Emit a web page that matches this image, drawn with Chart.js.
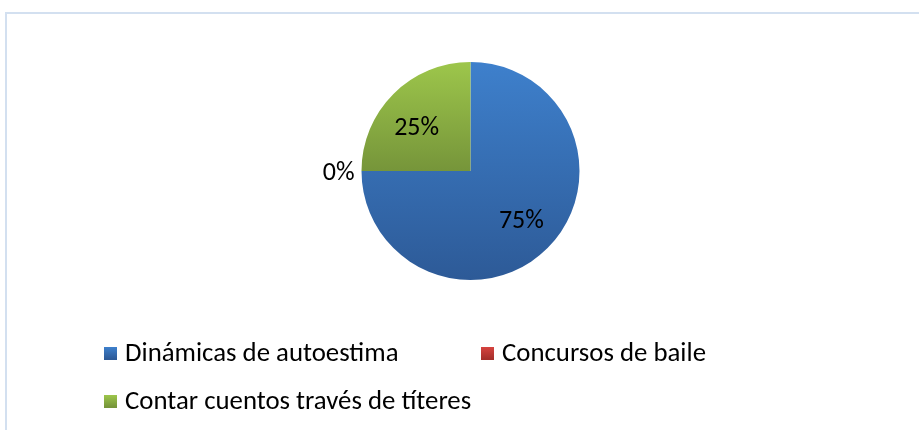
<!DOCTYPE html>
<html lang="es">
<head>
<meta charset="UTF-8">
<title>Actividades</title>
<script src="https://cdn.jsdelivr.net/npm/chart.js"></script>
<style>
  html, body { margin: 0; padding: 0; background: #fff; }
  #wrap { position: relative; width: 919px; height: 430px; overflow: hidden; }
  #frame { position: absolute; left: 5px; top: 12px; width: 930px; height: 440px;
           border-top: 2px solid #d3e0f0; border-left: 2px solid #d3e0f0; }
  canvas { position: absolute; left: 0; top: 0; }
</style>
</head>
<body>
<div id="wrap">
  <div id="frame"></div>
  <canvas id="pie" width="919" height="430"></canvas>
</div>
<script>
// data
var categories = ['Dinámicas de autoestima', 'Concursos de baile', 'Contar cuentos través de títeres'];
var values = [75, 0, 25];
var topColors = ['#3e80cc', '#d6433f', '#9dc64b'];
var bottomColors = ['#2d5a97', '#a52f2b', '#76953a'];
var legendSpots = [[104, 353], [481, 353], [104, 401]];

var FONT = 'Carlito, Lato, "Open Sans", sans-serif';

function sliceFill(context) {
    var chart = context.chart;
    var area = chart.chartArea;
    if (!area) return topColors[context.dataIndex];
    var arc = chart.getDatasetMeta(0).data[context.dataIndex];
    var cy = arc && arc.y ? arc.y : (area.top + area.bottom) / 2;
    var r = arc && arc.outerRadius ? arc.outerRadius : (area.bottom - area.top) / 2;
    var y0 = cy - r, y1 = cy + r;
    if (context.dataIndex === 2) { y1 = cy; }
    var g = chart.ctx.createLinearGradient(0, y0, 0, y1);
    g.addColorStop(0, topColors[context.dataIndex]);
    g.addColorStop(1, bottomColors[context.dataIndex]);
    return g;
}

var labelPlugin = {
    id: 'pctLabels',
    afterDatasetsDraw: function(chart) {
        var ctx = chart.ctx;
        var meta = chart.getDatasetMeta(0);
        var total = values.reduce(function(a, b) { return a + b; }, 0);
        ctx.save();
        ctx.fillStyle = '#000';
        ctx.font = '26px ' + FONT;
        ctx.textBaseline = 'middle';
        meta.data.forEach(function(arc, i) {
            var mid = (arc.startAngle + arc.endAngle) / 2;
            var pct = Math.round(values[i] / total * 100) + '%';
            if (values[i] === 0) {
                var ro = arc.outerRadius + 7;
                ctx.textAlign = Math.cos(mid) < 0 ? 'right' : 'left';
                ctx.fillText(pct, arc.x + Math.cos(mid) * ro, arc.y + Math.sin(mid) * ro + 2);
            } else {
                var ri = arc.outerRadius * 0.66;
                var lx = arc.x + Math.cos(mid) * ri;
                var ly = arc.y + Math.sin(mid) * ri;
                // excel sits the upper labels a bit lower
                if (Math.sin(mid) < 0) { ly += 8; lx -= 3; }
                ctx.textAlign = 'center';
                ctx.fillText(pct, lx, ly);
            }
        });
        ctx.restore();
    }
};

var legendPlugin = {
    id: 'sideLegend',
    afterDraw: function(chart) {
        var ctx = chart.ctx;
        ctx.save();
        ctx.font = '26.8px ' + FONT;
        ctx.textBaseline = 'middle';
        ctx.textAlign = 'left';
        categories.forEach(function(name, i) {
            var x = legendSpots[i][0], y = legendSpots[i][1];
            var g = ctx.createLinearGradient(0, y - 6, 0, y + 6);
            g.addColorStop(0, topColors[i]);
            g.addColorStop(1, bottomColors[i]);
            ctx.fillStyle = g;
            ctx.fillRect(x, y - 6, 13, 13);
            ctx.fillStyle = '#000';
            ctx.fillText(name, x + 21, y + 1);
        });
        ctx.restore();
    }
};

var ctx = document.getElementById('pie').getContext('2d');
var chart = new Chart(ctx, {
    type: 'pie',
    data: {
        labels: categories,
        datasets: [{
            data: values,
            backgroundColor: sliceFill,
            borderWidth: 0
        }]
    },
    options: {
        responsive: false,
        animation: false,
        layout: { padding: { left: 22, right: 0, top: 62, bottom: 150 } },
        plugins: {
            legend: { display: false },
            tooltip: { enabled: false }
        }
    },
    plugins: [labelPlugin, legendPlugin]
});
</script>
</body>
</html>
